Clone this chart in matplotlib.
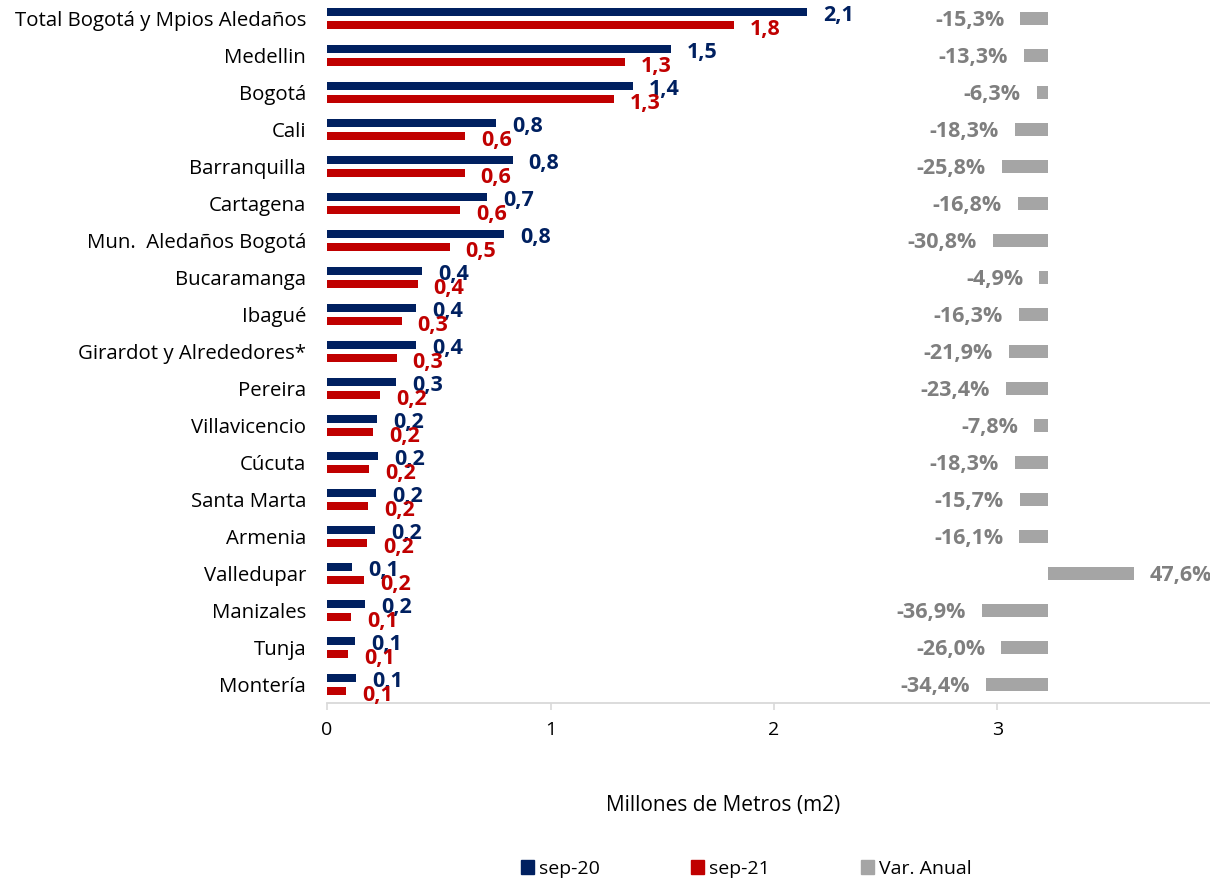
import matplotlib
matplotlib.use("Agg")
import matplotlib.pyplot as plt
from matplotlib.patches import Patch
import numpy as np

plt.rcParams['font.family'] = ['Open Sans', 'DejaVu Sans']

# Data
ciudades = ["Total Bogotá y Mpios Aledaños", "Medellin", "Bogotá", "Cali", "Barranquilla",
            "Cartagena", "Mun.  Aledaños Bogotá", "Bucaramanga", "Ibagué",
            "Girardot y Alrededores*", "Pereira", "Villavicencio", "Cúcuta", "Santa Marta",
            "Armenia", "Valledupar", "Manizales", "Tunja", "Montería"]

sep20 = [2.148, 1.538, 1.368, 0.758, 0.830, 0.717, 0.794, 0.426, 0.399,
         0.399, 0.309, 0.224, 0.229, 0.220, 0.215, 0.112, 0.170, 0.126, 0.130]
sep21 = [1.820, 1.333, 1.282, 0.619, 0.616, 0.597, 0.549, 0.405, 0.334,
         0.312, 0.237, 0.207, 0.187, 0.185, 0.180, 0.165, 0.107, 0.093, 0.085]
var_anual = [-15.3, -13.3, -6.3, -18.3, -25.8, -16.8, -30.8, -4.9, -16.3,
             -21.9, -23.4, -7.8, -18.3, -15.7, -16.1, 47.6, -36.9, -26.0, -34.4]

navy = "#002060"
red = "#C00000"
gray = "#A5A5A5"
gray_txt = "#7F7F7F"

fig = plt.figure(figsize=(12.1, 8.83), dpi=100)
ax = fig.add_axes([327 / 1210, 1 - 703 / 883, 883 / 1210, 703 / 883])

y = np.arange(len(ciudades))
ax.barh(y - 0.175, sep20, height=0.23, color=navy)
ax.barh(y + 0.175, sep21, height=0.23, color=red)
ax.set_ylim(len(ciudades) - 0.5, -0.5)
ax.set_xlim(0, 883 / 223.5)
ax.set_xticks([0, 1, 2, 3])
ax.set_yticks(y)
ax.set_yticklabels(ciudades, fontsize=14.7)
ax.tick_params(axis='y', length=0, pad=15)
ax.tick_params(axis='x', length=5, color="#D9D9D9", width=1.2, labelsize=14, pad=8)
for s in ["top", "right", "left"]:
    ax.spines[s].set_visible(False)
ax.spines["bottom"].set_color("#D9D9D9")
ax.spines["bottom"].set_linewidth(1.3)

for yi, v in zip(y, sep20):
    ax.annotate(f"{v:.1f}".replace(".", ","), (v, yi - 0.175), xytext=(11.5, -2.5),
                textcoords="offset points", ha="left", va="center",
                color=navy, fontsize=15.5, fontweight="bold")
for yi, v in zip(y, sep21):
    ax.annotate(f"{v:.1f}".replace(".", ","), (v, yi + 0.175), xytext=(11.5, -3),
                textcoords="offset points", ha="left", va="center",
                color=red, fontsize=15.5, fontweight="bold")

# Var. Anual on a secondary axis
ax2 = ax.twiny()
ax2.set_xlim(-(1048 - 327) / 1.8, (1210 - 1048) / 1.8)
ax2.barh(y, var_anual, height=0.33, color=gray)
ax2.set_xticks([])
for s in ax2.spines.values():
    s.set_visible(False)
for yi, v in zip(y, var_anual):
    txt = f"{v:.1f}".replace(".", ",") + "%"
    if v < 0:
        ax2.annotate(txt, (v, yi), xytext=(-11.5, -1.5), textcoords="offset points",
                     ha="right", va="center", color=gray_txt, fontsize=15.5, fontweight="bold")
    else:
        ax2.annotate(txt, (v, yi), xytext=(11.5, -1.5), textcoords="offset points",
                     ha="left", va="center", color=gray_txt, fontsize=15.5, fontweight="bold")

fig.text(723 / 1210, 1 - 805 / 883, "Millones de Metros (m2)", ha="center", va="center", fontsize=15)

handles = [Patch(color=navy, label="sep-20"), Patch(color=red, label="sep-21"),
           Patch(color=gray, label="Var. Anual")]
fig.legend(handles=handles, loc="center", bbox_to_anchor=(746 / 1210, 1 - 869 / 883),
           ncol=3, frameon=False, fontsize=14, handlelength=0.67, handleheight=0.7,
           handletextpad=0.25, columnspacing=4.7)

plt.savefig("out.png", dpi=100)
plt.close()
